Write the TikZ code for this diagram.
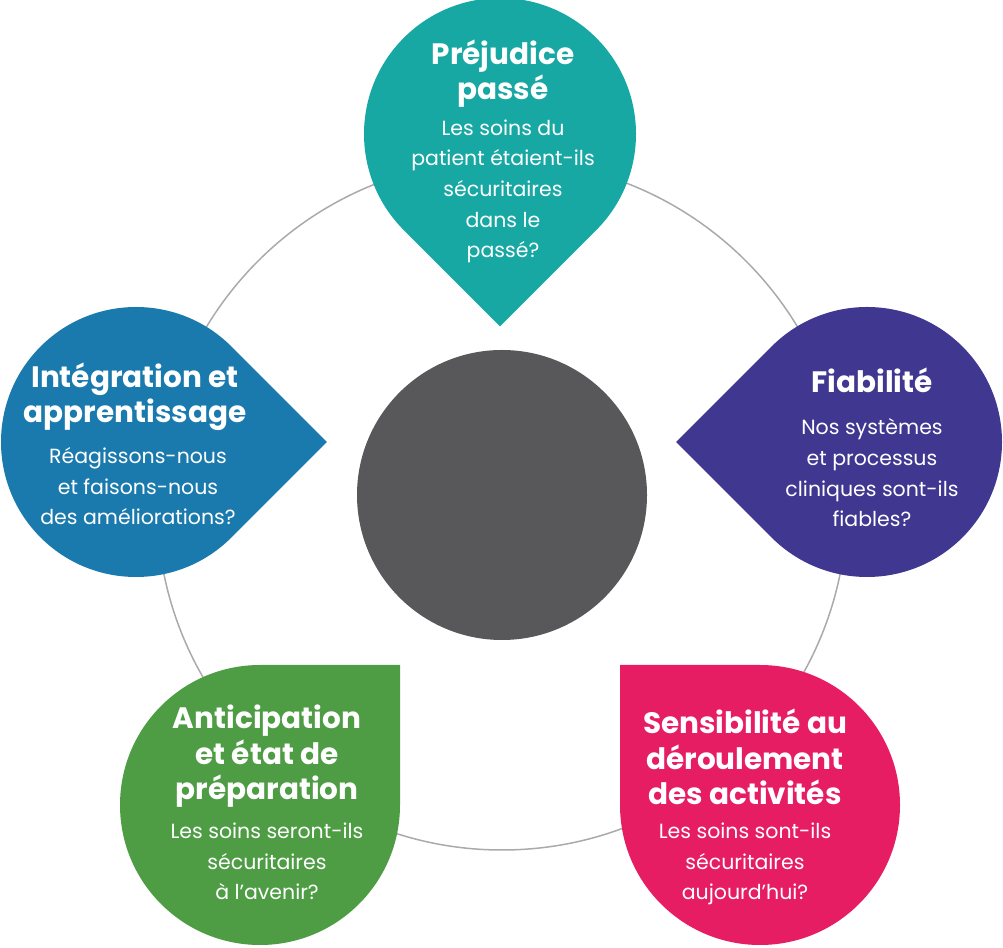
\documentclass[tikz,border=0pt]{standalone}
\usetikzlibrary{calc}
\usepackage{fontspec}
\setmainfont{Poppins}
\newfontfamily\headf{Poppins}[UprightFont=* Bold]
\begin{document}
\begin{tikzpicture}[x=1pt,y=1pt,
  head/.style={text=white,align=center,font=\headf\fontsize{29.5}{35.5}\selectfont,inner sep=0pt},
  body/.style={text=white,align=center,font=\fontsize{20.5}{30.7}\selectfont,inner sep=0pt}]
\definecolor{teal}{HTML}{17A8A4}
\definecolor{purp}{HTML}{3F3790}
\definecolor{blu}{HTML}{1A7AAD}
\definecolor{grn}{HTML}{4E9D45}
\definecolor{pnk}{HTML}{E71D64}
\definecolor{dgray}{HTML}{58585A}
\definecolor{ring}{HTML}{AAAAAA}
\useasboundingbox (0,0) rectangle (1003,947);
\newcommand\mydrop[5]{% center x,y, radius, angle, color
  \fill[#5] ($(#1,#2)+(#4-45:#3)$) -- ($(#1,#2)+(#4:{#3*1.41421})$) -- ($(#1,#2)+(#4+45:#3)$) arc[start angle=#4+45, delta angle=270, radius=#3] -- cycle;}
\draw[ring,line width=1.5pt] (502,442) circle[radius=345];
\mydrop{500}{813}{136}{-90}{teal}
\mydrop{867}{505}{135}{180}{purp}
\mydrop{136}{505}{135}{0}{blu}
\mydrop{260}{142}{140}{45}{grn}
\mydrop{760}{142}{140}{135}{pnk}
\fill[dgray] (502,452) circle[radius=145] node (core) {};
\node[head,anchor=base] (h1) at (503,847) {Préjudice\\passé};
\node[body,anchor=base] (b1) at (503,689) {Les soins du\\patient étaient-ils\\sécuritaires\\dans le\\passé?};
\node[head,anchor=base] (h2) at (872,554) {Fiabilité};
\node[body,anchor=base] (b2) at (872,420) {Nos systèmes\\et processus\\cliniques sont-ils\\fiables?};
\node[head,anchor=base] (h3) at (135,524) {Intégration et\\apprentissage};
\node[body,anchor=base] (b3) at (138,422) {Réagissons-nous\\et faisons-nous\\des améliorations?};
\node[head,anchor=base] (h4) at (267,147) {Anticipation\\et état de\\préparation};
\node[body,anchor=base] (b4) at (267,47) {Les soins seront-ils\\sécuritaires\\à l’avenir?};
\node[head,anchor=base] (h5) at (745,142) {Sensibilité au\\déroulement\\des activités};
\node[body,anchor=base] (b5) at (745,47) {Les soins sont-ils\\sécuritaires\\aujourd’hui?};
\end{tikzpicture}
\end{document}
